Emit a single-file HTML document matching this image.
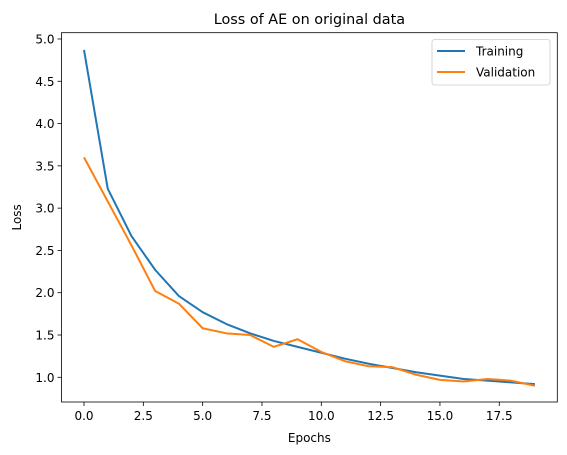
<!DOCTYPE html>
<html><head><meta charset="utf-8"><style>
body{margin:0;background:#fff;}
svg{display:block;font-family:"DejaVu Sans","Liberation Sans",sans-serif;}
</style></head><body>
<svg id="chart" width="567" height="455"></svg>
<script>
const epochs=[0,1,2,3,4,5,6,7,8,9,10,11,12,13,14,15,16,17,18,19];
const training=[4.87,3.23,2.67,2.27,1.96,1.77,1.63,1.52,1.43,1.36,1.29,1.22,1.16,1.11,1.06,1.02,0.98,0.96,0.94,0.92];
const validation=[3.60,3.08,2.56,2.02,1.87,1.58,1.52,1.50,1.36,1.45,1.30,1.19,1.13,1.12,1.03,0.97,0.95,0.98,0.96,0.90];
const xTicks=[0,2.5,5,7.5,10,12.5,15,17.5];
const xTickLabels=["0.0","2.5","5.0","7.5","10.0","12.5","15.0","17.5"];
const yTicks=[1,1.5,2,2.5,3,3.5,4,4.5,5];
const yTickLabels=["1.0","1.5","2.0","2.5","3.0","3.5","4.0","4.5","5.0"];
const L=61.5,R=557.3,T=32.7,B=402;
const sx=v=>84+v*23.73;
const sy=v=>377.3-(v-1)*84.58;
const svg=document.getElementById('chart');
const NS='http://www.w3.org/2000/svg';
function mk(tag,attrs,parent){const e=document.createElementNS(NS,tag);for(const k in attrs)e.setAttribute(k,attrs[k]);(parent||svg).appendChild(e);return e;}
function txt(s,attrs){const e=mk('text',attrs);e.textContent=s;return e;}
xTicks.forEach((v,i)=>{
 const t=mk('line',{x1:sx(v),x2:sx(v),y1:B,y2:B+4,stroke:'#000','stroke-width':0.8});
 
 
 const l=txt(xTickLabels[i],{x:sx(v),y:B+18,'text-anchor':'middle','font-size':12,fill:'#000'});
 
 
});
yTicks.forEach((v,i)=>{
 const t=mk('line',{x1:L-4,x2:L,y1:sy(v),y2:sy(v),stroke:'#000','stroke-width':0.8});
 
 
 const l=txt(yTickLabels[i],{x:L-7,y:sy(v)+4.5,'text-anchor':'end','font-size':12,fill:'#000'});
 
 
});
function line(data,color,name){
 const p=mk('polyline',{points:data.map((v,i)=>sx(epochs[i])+','+sy(v)).join(' '),fill:'none',stroke:color,'stroke-width':2,'stroke-linejoin':'round'});
 
 
}
line(training,'#1f77b4','training-line');
line(validation,'#ff7f0e','validation-line');
const frame=mk('rect',{x:L,y:T,width:R-L,height:B-T,fill:'none',stroke:'#000','stroke-width':0.8});


const title=txt('Loss of AE on original data',{x:(L+R)/2,y:24,'text-anchor':'middle','font-size':14.4});


const xl=txt('Epochs',{x:(L+R)/2,y:442,'text-anchor':'middle','font-size':12});


const yl=txt('Loss',{x:0,y:0,'text-anchor':'middle','font-size':12,transform:'translate(21,'+((T+B)/2)+') rotate(-90)'});


const lg=mk('rect',{x:432,y:39.5,width:118,height:45.5,rx:2.5,fill:'#fff',stroke:'#ccc','stroke-width':0.8});


[['Training','#1f77b4',51],['Validation','#ff7f0e',72]].forEach(([n,c,y])=>{
 const s=mk('line',{x1:437,x2:465,y1:y,y2:y,stroke:c,'stroke-width':2});
 
 
 const t=txt(n,{x:476,y:y+4.5,'font-size':12});
 
 
});
</script>
</body></html>
